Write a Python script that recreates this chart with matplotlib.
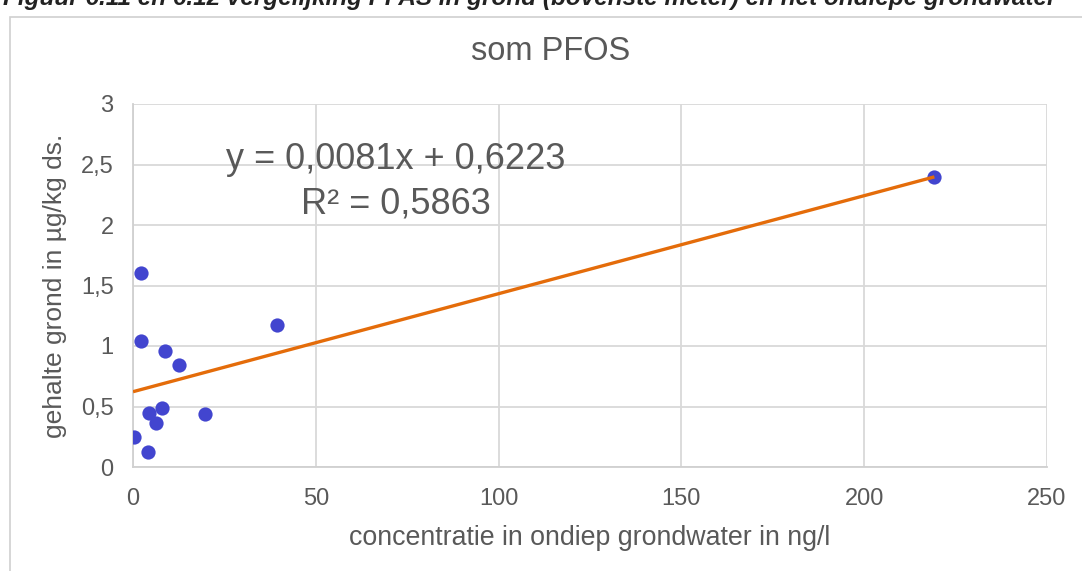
import matplotlib
matplotlib.use("Agg")
import matplotlib.pyplot as plt
from matplotlib.patches import Rectangle
import numpy as np

plt.rcParams['font.family'] = ['Liberation Sans', 'DejaVu Sans']

# Data
x_gw = [2.2, 2.2, 8.75, 12.6, 39.3, 4.5, 7.8, 6.3, 19.8, 0.2, 4.1, 219.2]
y_soil = [1.60, 1.045, 0.955, 0.84, 1.17, 0.445, 0.49, 0.365, 0.44, 0.245, 0.12, 2.395]
slope, intercept = 0.0081, 0.6223
x_ticks = [0, 50, 100, 150, 200, 250]
y_ticks = [0, 0.5, 1, 1.5, 2, 2.5, 3]
y_ticklabels = ['0', '0,5', '1', '1,5', '2', '2,5', '3']

title = 'som PFOS'
xlabel = 'concentratie in ondiep grondwater in ng/l'
ylabel = 'gehalte grond in µg/kg ds.'
caption = 'Figuur 6.11 en 6.12 vergelijking PFAS in grond (bovenste meter) en het ondiepe grondwater'

W, H = 1082, 571
fig = plt.figure(figsize=(W / 100, H / 100), dpi=100)
fig.patch.set_facecolor('white')

# outer chart frame
fig.patches.append(Rectangle((10 / W, -0.05), 1.2, 1 - 17 / H + 0.05,
                             transform=fig.transFigure, fill=False,
                             edgecolor='#d0d0d0', linewidth=1.2))

fig.text(3 / W, 1 - 5 / H, caption, fontsize=17.5, fontweight='bold',
         fontstyle='italic', color='#222222', va='baseline', ha='left')

ax = fig.add_axes([133 / W, 1 - 467 / H, (1047 - 133) / W, (467 - 104) / H])
ax.set_xlim(0, 250)
ax.set_ylim(0, 3)
ax.set_xticks(x_ticks)
ax.set_yticks(y_ticks)
ax.set_yticklabels(y_ticklabels)
ax.grid(True, color='#d9d9d9', linewidth=1.3)
ax.set_axisbelow(True)
for s in ax.spines.values():
    s.set_visible(False)
for side in ('left', 'bottom'):
    ax.spines[side].set_visible(True)
    ax.spines[side].set_color('#d0d0d0')
    ax.spines[side].set_linewidth(1.3)
ax.tick_params(length=0, labelsize=17, labelcolor='#595959')
ax.tick_params(axis='y', pad=14)
ax.tick_params(axis='x', pad=15)

ax.scatter(x_gw, y_soil, s=105, color='#4245CF', zorder=3, linewidths=0)
xl = np.array([0, max(x_gw)])
ax.plot(xl, slope * xl + intercept, color='#E46C0A', linewidth=2.4, zorder=4,
        solid_capstyle='butt')

ax.set_xlabel(xlabel, fontsize=19.3, color='#595959', labelpad=11)
ax.set_ylabel(ylabel, fontsize=19, color='#595959', labelpad=10)

fig.text(396 / W, 1 - 169 / H, 'y = 0,0081x + 0,6223', fontsize=26,
         color='#595959', ha='center', va='baseline')
fig.text(396 / W, 1 - 213 / H, 'R² = 0,5863', fontsize=26,
         color='#595959', ha='center', va='baseline')
fig.text(551 / W, 1 - 60 / H, title, fontsize=23.5, color='#595959',
         ha='center', va='baseline')

fig.savefig('out.png', dpi=100, facecolor='white')
